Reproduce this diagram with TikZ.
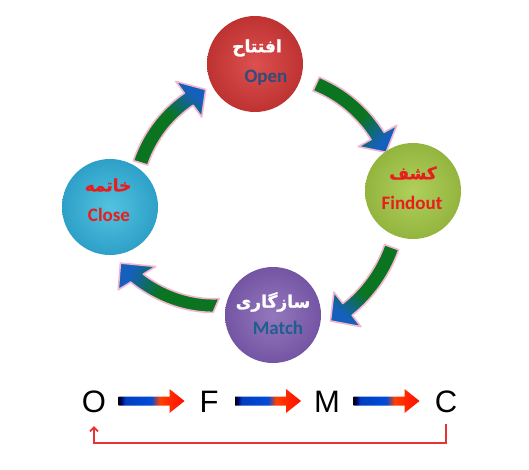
\documentclass[tikz,border=0pt]{standalone}
\usepackage{fontspec}
\setmainfont{Carlito}
\newfontfamily\arialfont{Liberation Sans}
\newfontfamily\arabicfont[Script=Arabic, BoldFeatures={FakeBold=1.3}]{DejaVu Sans}
\TeXXeTstate=1
\usetikzlibrary{arrows.meta,calc}
\definecolor{arrgreen}{HTML}{0A7420}
\definecolor{arrblue}{HTML}{1560BC}
\definecolor{arrpink}{HTML}{F4B6CF}
\definecolor{openin}{HTML}{DC5050}
\definecolor{openout}{HTML}{BF3232}
\definecolor{findin}{HTML}{B0CF5C}
\definecolor{findout}{HTML}{93B53E}
\definecolor{matchin}{HTML}{9577BD}
\definecolor{matchout}{HTML}{7455A4}
\definecolor{closein}{HTML}{52C3DF}
\definecolor{closeout}{HTML}{2EA0C8}
\definecolor{opentxt}{HTML}{2E4C7C}
\definecolor{matchtxt}{HTML}{1E5F90}
\definecolor{redtxt}{HTML}{E81E1E}
\definecolor{lineRed}{HTML}{E53434}
\pgfdeclarehorizontalshading{blockgrad}{100bp}{color(0bp)=(black); color(25bp)=(black); color(27bp)=(black!60!blue); color(30bp)=(black!10!blue!70!cyan!80!black); color(50bp)=(blue!65!cyan!85!black); color(56bp)=(orange!50!red); color(75bp)=(red!90!orange); color(100bp)=(red)}
\pgfdeclarehorizontalshading{arrgrad}{100bp}{color(0bp)=(arrgreen); color(54bp)=(arrgreen); color(74bp)=(arrblue); color(100bp)=(arrblue)}
\tikzset{
  ball/.style={circle, minimum size=96pt, inner sep=0pt},
  arrowbody/.style={draw=arrpink, line width=1.6pt, line join=round, shading=arrgrad},
  lat/.style={font=\fontsize{19}{19}\selectfont\bfseries, inner sep=0pt},
  arab/.style={font=\arabicfont\fontsize{17}{17}\selectfont\bfseries, inner sep=0pt},
  letter/.style={font=\arialfont\fontsize{31}{31}\selectfont, inner sep=0pt},
  redline/.style={draw=lineRed, line width=1.8pt, -{Straight Barb[length=4pt,width=8pt]}}
}
\newcommand{\bentarrow}[8]{%
  \pgfmathsetmacro\arrK{(#7-#4)/(#6-#3)}%
  \pgfmathsetmacro\arrRb{#4+(#5-#3)*\arrK}%
  \shadedraw[arrowbody, shading angle=#8]
    plot[domain=0:1, samples=30] ({#1+(#4+\x*(#5-#3)*\arrK+7.5)*cos(#3+\x*(#5-#3))}, {#2+(#4+\x*(#5-#3)*\arrK+7.5)*sin(#3+\x*(#5-#3))})
    -- ({#1+(\arrRb+22)*cos(#5)}, {#2+(\arrRb+22)*sin(#5)})
    -- ({#1+#7*cos(#6)}, {#2+#7*sin(#6)})
    -- ({#1+(\arrRb-22)*cos(#5)}, {#2+(\arrRb-22)*sin(#5)})
    -- plot[domain=0:1, samples=30] ({#1+(\arrRb-\x*(#5-#3)*\arrK-7.5)*cos(#5-\x*(#5-#3))}, {#2+(\arrRb-\x*(#5-#3)*\arrK-7.5)*sin(#5-\x*(#5-#3))})
    -- cycle;
}
\begin{document}
\begin{tikzpicture}[x=1pt,y=-1pt]
\useasboundingbox (0,0) rectangle (529,470);
\fill[white] (0,0) rectangle (529,470);
% curved arrows
\bentarrow{262}{200}{-65}{128}{-29}{-21}{133}{-45}
\bentarrow{262}{200}{20}{138}{52}{60.5}{139}{-129}
\bentarrow{262}{200}{113.5}{115}{148}{156}{155}{155}
\bentarrow{262}{200}{197}{127}{234}{243}{124}{48}
% circles
\node[ball, inner color=openin, outer color=openout] (open) at (255,64) {};
\node[ball, inner color=findin, outer color=findout] (find) at (413,191) {};
\node[ball, inner color=matchin, outer color=matchout] (match) at (273,315) {};
\node[ball, inner color=closein, outer color=closeout] (close) at (110,207) {};
% texts
\node[arab, text=white] (openA) at (257,48) {\beginR افتتاح\endR};
\node[lat, text=opentxt] (openL) at (266,78) {Open};
\node[arab, text=redtxt] (findA) at (413,173) {\beginR کشف\endR};
\node[lat, text=redtxt] (findL) at (412,203) {Findout};
\node[arab, text=white] (matchA) at (273,302) {\beginR سازگاری\endR};
\node[lat, text=matchtxt] (matchL) at (278,328) {Match};
\node[arab, text=redtxt] (closeA) at (108,185) {\beginR خاتمه\endR};
\node[lat, text=redtxt] (closeL) at (109,215) {Close};
% bottom row
\node[letter] (On) at (94,402) {O};
\node[letter] (Fn) at (209,402) {F};
\node[letter] (Mn) at (327,402) {M};
\node[letter] (Cn) at (446,402) {C};
\foreach \a/\b in {On/Fn, Fn/Mn, Mn/Cn}{
  \begin{scope}[shift={($(\a)!0.5!(\b)$)}]
    \shade[shading=blockgrad] (-33,-5.5) -- (18,-5.5) -- (18,-13) -- (33,-1) -- (18,11) -- (18,3.5) -- (-33,3.5) -- cycle;
  \end{scope}
}
\draw[redline, shorten <=11pt, shorten >=13pt] (Cn.south) -- ++(0,29.5) -| (On.south);
\end{tikzpicture}
\end{document}
